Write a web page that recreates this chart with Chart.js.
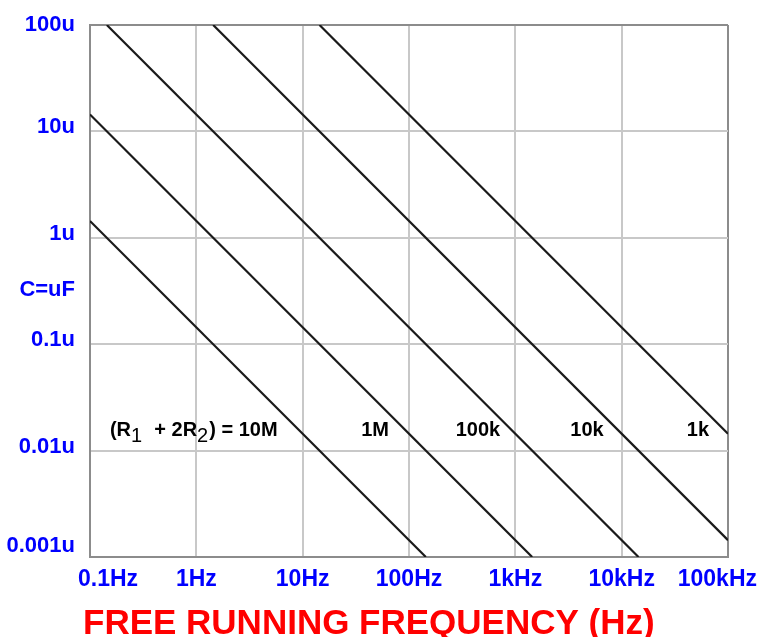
<!DOCTYPE html>
<html>
<head>
<meta charset="utf-8">
<script src="https://cdn.jsdelivr.net/npm/chart.js@4/dist/chart.umd.min.js"></script>
<style>
  html, body { margin: 0; padding: 0; background: #fff; }
  #wrap { width: 761px; height: 637px; }
</style>
</head>
<body>
<div id="wrap"><canvas id="chart" width="761" height="637"></canvas></div>
<script>
// axis ticks
const xTickValues = [0.1, 1, 10, 100, 1000, 10000, 100000];
const xTickLabels = ['0.1Hz', '1Hz', '10Hz', '100Hz', '1kHz', '10kHz', '100kHz'];
const yTickValues = [0.001, 0.01, 0.1, 1, 10, 100];
const yTickLabels = ['0.001u', '0.01u', '0.1u', '1u', '10u', '100u'];

// resistor lines, each one straight on log-log: [start, end] as (Hz, uF)
const seriesNames = ['10M', '1M', '100k', '10k', '1k'];
const line10M  = [{x: 0.1,   y: 1.44}, {x: 144,    y: 0.001}];
const line1M   = [{x: 0.1,   y: 14.4}, {x: 1440,   y: 0.001}];
const line100k = [{x: 0.144, y: 100},  {x: 14400,  y: 0.001}];
const line10k  = [{x: 1.44,  y: 100},  {x: 100000, y: 0.00144}];
const line1k   = [{x: 14.4,  y: 100},  {x: 100000, y: 0.0144}];

// where the line names sit (Hz), all on the same C row
const nameAtX = [0.154, 48, 445, 4720, 52200];
const nameAtY = 0.0164;

const FONT = '"Liberation Sans", Arial, sans-serif';

const textPlugin = {
    id: 'texts',
    afterDraw(chart) {
        const ctx = chart.ctx;
        const xs = chart.scales.x, ys = chart.scales.y;
        ctx.save();

        // y tick labels
        ctx.fillStyle = '#0000ff';
        ctx.font = 'bold 22px ' + FONT;
        ctx.textAlign = 'right';
        ctx.textBaseline = 'middle';
        yTickValues.forEach((v, i) => {
            let py = ys.getPixelForValue(v) - 4;
            if (i === 0) py = ys.getPixelForValue(v) - 11;
            if (i === yTickValues.length - 1) py = ys.getPixelForValue(v);
            ctx.fillText(yTickLabels[i], 75, py);
        });
        ctx.fillText('C=uF', 75, 290);

        // x tick labels
        ctx.font = 'bold 23px ' + FONT;
        ctx.textAlign = 'left';
        xTickValues.forEach((v, i) => {
            const w = ctx.measureText(xTickLabels[i]).width;
            let left = xs.getPixelForValue(v) - w / 2;
            left = Math.max(78, Math.min(757 - w, left));
            ctx.fillText(xTickLabels[i], left, 580);
        });

        // line names
        ctx.fillStyle = '#000';
        const py = ys.getPixelForValue(nameAtY);
        ctx.textBaseline = 'alphabetic';
        const base = py + 8;
        // first one with subscripts, left aligned
        let px = xs.getPixelForValue(nameAtX[0]);
        const parts = [['(R', 0], ['1', 1], ['  + 2R', 0], ['2', 1], [') = ' + seriesNames[0], 0]];
        ctx.textAlign = 'left';
        parts.forEach(([t, sub]) => {
            ctx.font = (sub ? '' : 'bold ') + '20px ' + FONT;
            ctx.fillText(t, px, base + (sub ? 6 : 0));
            px += ctx.measureText(t).width + (sub ? 1 : 0);
        });
        ctx.textAlign = 'center';
        ctx.font = 'bold 20px ' + FONT;
        for (let i = 1; i < seriesNames.length; i++) {
            ctx.fillText(seriesNames[i], xs.getPixelForValue(nameAtX[i]), base);
        }

        // title
        ctx.fillStyle = '#ff0000';
        ctx.font = 'bold 35px ' + FONT;
        ctx.textAlign = 'left';
        ctx.fillText('FREE RUNNING FREQUENCY (Hz)', 83, 634);
        ctx.restore();
    }
};

function gridColor(c) {
    if (c.index === 0 || c.index === c.scale.ticks.length - 1) return '#8c8c8c';
    return '#c8c8c8';
}

const lineStyle = {borderColor: '#1a1a1a', borderWidth: 2.2, pointRadius: 0, fill: false, tension: 0};

new Chart(document.getElementById('chart'), {
    type: 'line',
    data: {
        datasets: [line10M, line1M, line100k, line10k, line1k].map((d, i) =>
            Object.assign({label: seriesNames[i], data: d}, lineStyle))
    },
    options: {
        responsive: false,
        animation: false,
        devicePixelRatio: 1,
        layout: {padding: {left: 90, top: 25, right: 33, bottom: 80}},
        plugins: {legend: {display: false}, tooltip: {enabled: false}},
        scales: {
            x: {
                type: 'logarithmic', min: 0.1, max: 100000,
                afterBuildTicks: s => { s.ticks = xTickValues.map(v => ({value: v})); },
                ticks: {display: false},
                grid: {color: gridColor, lineWidth: 2, drawTicks: false},
                border: {display: true, color: '#8c8c8c', width: 2}
            },
            y: {
                type: 'logarithmic', min: 0.001, max: 100,
                afterBuildTicks: s => { s.ticks = yTickValues.map(v => ({value: v})); },
                ticks: {display: false},
                grid: {color: gridColor, lineWidth: 2, drawTicks: false},
                border: {display: true, color: '#8c8c8c', width: 2}
            }
        }
    },
    plugins: [textPlugin]
});
</script>
</body>
</html>
